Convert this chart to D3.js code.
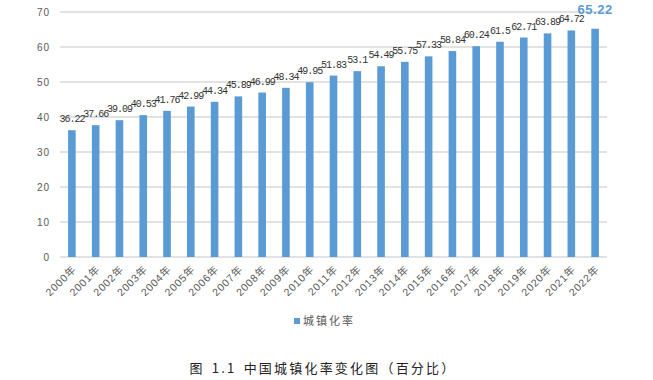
<!DOCTYPE html>
<html>
<head>
<meta charset="utf-8">
<script src="https://cdn.jsdelivr.net/npm/d3@7"></script>
<style>
  body { margin: 0; background: #fff; }
  svg { display: block; }
</style>
</head>
<body>
<svg id="chart"></svg>
<script>
var years = ["2000年", "2001年", "2002年", "2003年", "2004年", "2005年", "2006年", "2007年", "2008年", "2009年", "2010年", "2011年",
  "2012年", "2013年", "2014年", "2015年", "2016年", "2017年", "2018年", "2019年", "2020年", "2021年", "2022年"];
var rates = [36.22, 37.66, 39.09, 40.53, 41.76, 42.99, 44.34, 45.89, 46.99, 48.34, 49.95, 51.83,
  53.1, 54.49, 55.75, 57.33, 58.84, 60.24, 61.5, 62.71, 63.89, 64.72, 65.22];
var yTicks = [0, 10, 20, 30, 40, 50, 60, 70];
var seriesName = "城镇化率";
var caption = "图 1.1 中国城镇化率变化图（百分比）";

var width = 653, height = 380;
var margin = {left: 60, right: 46, top: 12, bottom: 123};
var w = width - margin.left - margin.right;
var h = height - margin.top - margin.bottom;
var blue = "#5b9bd5";

var svg = d3.select("#chart")
  .attr("width", width)
  .attr("height", height);

var g = svg.append("g")
  .attr("transform", "translate(" + margin.left + "," + margin.top + ")");

var x = d3.scaleBand().domain(years).range([0, w]).paddingInner(0.68).paddingOuter(0.34);
var y = d3.scaleLinear().domain([0, 70]).range([h, 0]);

// gridlines
g.selectAll(".grid")
  .data(yTicks)
  .enter()
  .append("line")
    .attr("x1", 0)
    .attr("x2", w)
    .attr("y1", function(d) { return y(d) })
    .attr("y2", function(d) { return y(d) })
    .attr("stroke", "#d9d9d9")
    .attr("stroke-width", 1.3);

var yAxis = d3.axisLeft(y).tickValues(yTicks).tickSize(0).tickPadding(10);
var ya = g.append("g").call(yAxis);
ya.select(".domain").remove();
ya.selectAll("text")
  .attr("fill", "#595959")
  .style("font-family", "Liberation Sans, sans-serif")
  .style("font-size", "10px")
  .style("letter-spacing", "1px");

// bars
g.selectAll(".bar")
  .data(rates)
  .enter()
  .append("rect")
    .attr("x", function(d, i) { return x(years[i]) })
    .attr("y", function(d) { return y(d) })
    .attr("width", x.bandwidth())
    .attr("height", function(d) { return h - y(d) })
    .attr("fill", blue);

var last = rates.length - 1;

// value labels
g.selectAll(".lbl")
  .data(rates)
  .enter()
  .append("text")
    .attr("x", function(d, i) { return x(years[i]) + x.bandwidth() / 2 })
    .attr("y", function(d, i) { return i == last ? y(d) - 15 : y(d) - 8 })
    .attr("text-anchor", "middle")
    .attr("fill", function(d, i) { return i == last ? blue : "#333" })
    .style("font-family", function(d, i) { return i == last ? "Liberation Sans, sans-serif" : "Liberation Mono, monospace" })
    .style("font-weight", function(d, i) { return i == last ? "bold" : "normal" })
    .style("font-size", function(d, i) { return i == last ? "13px" : "10px" })
    .style("letter-spacing", function(d, i) { return i == last ? "0.5px" : "-1px" })
    .text(function(d) { return String(d) });

// x axis labels
var xAxis = d3.axisBottom(x).tickSize(0).tickPadding(0);
var xa = g.append("g").attr("transform", "translate(0," + h + ")").call(xAxis);
xa.select(".domain").remove();
xa.selectAll("text")
  .attr("text-anchor", "end")
  .attr("dy", 0)
  .attr("transform", "translate(5,13) rotate(-45)")
  .attr("fill", "#595959")
  .style("font-family", "Liberation Sans, 'Noto Sans CJK SC', sans-serif")
  .style("font-size", "10.5px")
  .style("letter-spacing", "0.8px");

// legend
var lg = svg.append("g").attr("transform", "translate(294,318)");
lg.append("rect").attr("width", 6).attr("height", 6).attr("fill", blue);
lg.append("text")
  .attr("x", 9)
  .attr("y", 7)
  .attr("fill", "#595959")
  .style("font-family", "'Noto Sans CJK SC', sans-serif")
  .style("font-size", "11px")
  .style("letter-spacing", "2px")
  .text(seriesName);

// caption
svg.append("text")
  .attr("x", 323)
  .attr("y", 373)
  .attr("text-anchor", "middle")
  .attr("fill", "#222")
  .style("font-family", "'Noto Sans CJK SC', sans-serif")
  .style("font-size", "13px")
  .style("letter-spacing", "2.2px")
  .style("word-spacing", "2px")
  .text(caption);
</script>
</body>
</html>
